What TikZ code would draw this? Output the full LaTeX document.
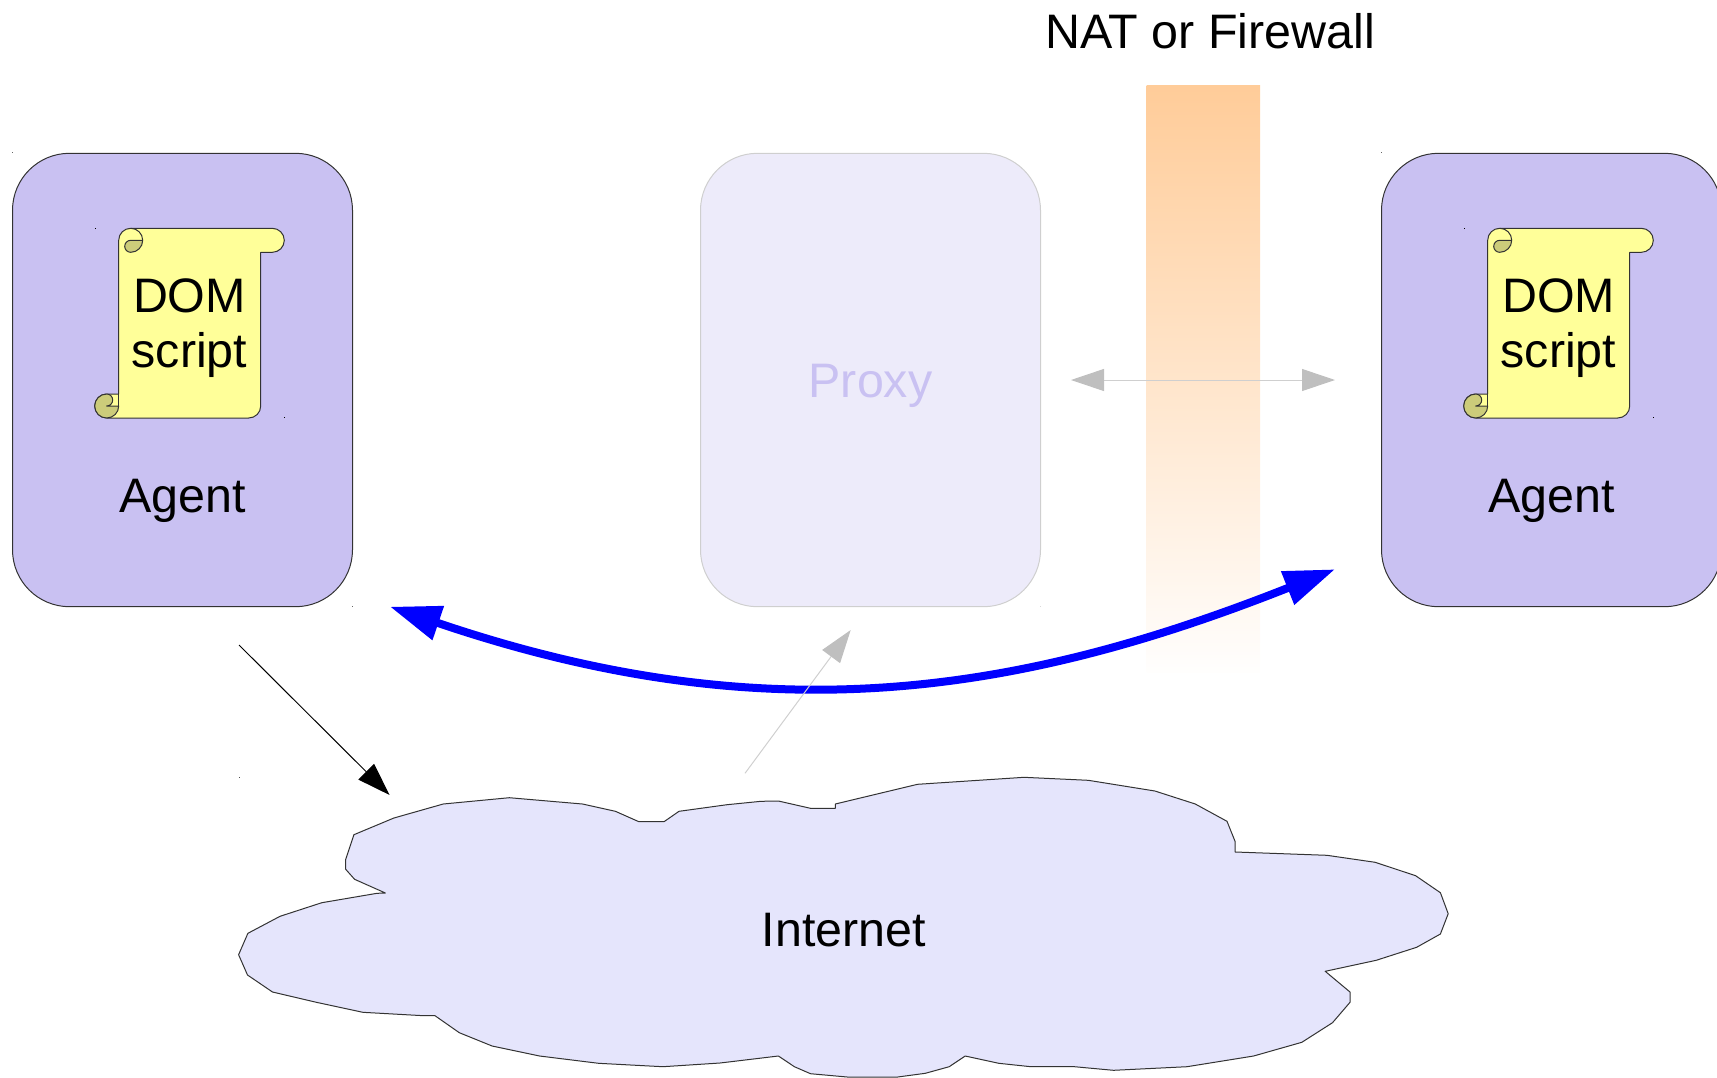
\documentclass[tikz,border=0pt]{standalone}
\usepackage{fontspec}
\setmainfont{Liberation Sans}
\usetikzlibrary{arrows.meta}
\definecolor{agentfill}{HTML}{C9C1F2}
\definecolor{proxyfill}{HTML}{EDEBFA}
\definecolor{cloudfill}{HTML}{E5E5FC}
\definecolor{scrollfill}{HTML}{FFFF99}
\definecolor{curlfill}{HTML}{CCCC7A}
\definecolor{wallfill}{HTML}{FFCC99}
\definecolor{wallend}{HTML}{FFFEFD}
\definecolor{inkline}{HTML}{333333}
\definecolor{fadeline}{HTML}{CFCFCF}
\definecolor{fadetip}{HTML}{BFBFBF}
\definecolor{fadetext}{HTML}{C9C1F2}
\tikzset{
  hostbox/.style={rounded corners=57pt,minimum width=340pt,minimum height=453.4pt,inner sep=0pt,line width=1pt},
  agentbox/.style={hostbox,draw=inkline,fill=agentfill},
  proxybox/.style={hostbox,draw=fadeline,fill=proxyfill},
  bigtext/.style={font=\fontsize{48.4}{54.5}\selectfont,inner sep=0pt,anchor=base},
  scrollline/.style={draw=inkline,line width=1pt,line join=round},
  speck/.style={fill=black},
  blackarrow/.style={line width=1pt,-{Triangle[length=33pt,width=22pt]}},
  fadearrow/.style={line width=1pt,draw=fadeline,-{Triangle[length=33pt,width=22pt,color=fadetip]}},
  fadedouble/.style={line width=1pt,draw=fadeline,{Triangle[length=33pt,width=22pt,color=fadetip]}-{Triangle[length=33pt,width=22pt,color=fadetip]}},
  bluearrow/.style={line width=8pt,draw=blue,{Triangle[length=51pt,width=34pt,color=blue]}-{Triangle[length=51pt,width=34pt,color=blue]}},
}
\begin{document}
\begin{tikzpicture}[x=1pt,y=-1pt]
\path[use as bounding box,clip] (0,0) rectangle (1717,1077);

% firewall
\shade[top color=wallfill,bottom color=wallend,shading angle=0] (1146.5,85.4) rectangle (1260,672);
\node[bigtext] (natlabel) at (1210,48) {NAT or Firewall};

% proxy
\node[proxybox] (proxy) at (870.5,380) {};
\node[bigtext,text=fadetext] (proxylabel) at (870.5,397) {Proxy};

% the two agents
\foreach \side/\ox in {left/0,right/1369}{
\begin{scope}[xshift=\ox pt]
  \node[agentbox] (agent\side) at (182.5,380) {};
  \node[bigtext] (agentlabel\side) at (182.5,512.5) {Agent};
  \draw[scrollline,fill=scrollfill] (130.7,228.3) -- (272.3,228.3) arc (-90:90:12) -- (260.7,252.3)
     -- (260.7,406) arc (0:90:12) -- (106.7,418) arc (90:270:12) -- (118.7,394)
     -- (118.7,240.3) arc (180:270:12) -- cycle;
  \draw[scrollline] (130.7,228.3) arc (-90:0:12);
  \draw[scrollline,fill=curlfill] (142.7,240.3) -- (130.7,240.3) arc (270:90:6) arc (90:0:12) -- cycle;
  \draw[scrollline,fill=curlfill] (106.7,418) arc (90:270:12) arc (-90:90:6) -- (118.7,406) arc (0:90:12) -- cycle;
  \draw[scrollline] (118.7,394) -- (118.7,406);
  \node[bigtext,align=center,anchor=center] (scroll\side) at (189.5,328) {DOM\\script};
  \fill[speck] (95,228) rectangle +(1,1);
  \fill[speck] (284,417) rectangle +(1,1);
  \fill[speck,opacity=.6] (12,152) rectangle +(1,1);
\end{scope}
}
\fill[speck,opacity=.6] (352,606) rectangle +(1,1);
\fill[speck,opacity=.15] (1040,606) rectangle +(1,1);
\fill[speck,opacity=.7] (239,777) rectangle +(1,1);

% internet
\draw[fill=cloudfill,draw=inkline,line width=1pt,line join=round]
  (509.3,797.7) -- (582.5,804) -- (615.4,811.3) -- (638.9,821.7) -- (664,821.7) -- (679,811.3)
  -- (727,804.7) -- (761,801.3) -- (778.4,801) -- (810.5,808.3) -- (835.3,808.3) -- (835.3,804)
  -- (917.5,784.3) -- (1024,777.3) -- (1088.3,780.3) -- (1154.9,791) -- (1195.3,804) -- (1227,821.3)
  -- (1235.2,841.7) -- (1235.2,852) -- (1327,855.3) -- (1375.2,862.3) -- (1415.6,875.7)
  -- (1440.4,892.7) -- (1448.2,913.7) -- (1440.4,934) -- (1416.6,947.3) -- (1376.2,960.3)
  -- (1325.2,971.3) -- (1350,992) -- (1350,1002.3) -- (1332.5,1022.7) -- (1301.8,1042.3)
  -- (1253.6,1056) -- (1187,1066.7) -- (1113.5,1070.3) -- (1074.5,1066.7) -- (1030.9,1066.7)
  -- (998.8,1063.3) -- (965.2,1056) -- (949.2,1066.7) -- (925.3,1073.3) -- (897.7,1077)
  -- (847.2,1077) -- (810.5,1073.7) -- (794.4,1066.7) -- (778.4,1056) -- (720,1063)
  -- (662.9,1066.7) -- (598.6,1063.3) -- (539.6,1056) -- (492.1,1046) -- (459.3,1032.7)
  -- (435,1015.7) -- (423.6,1015.7) -- (362.9,1012.3) -- (316.4,1002.3) -- (272.5,992)
  -- (247.5,975) -- (238.6,954.7) -- (247.9,933.3) -- (280,916.3) -- (321.8,902.7) -- (377,893.3)
  -- (385.4,893) -- (354.6,879.3) -- (345.7,869.3) -- (345.7,859.3) -- (353.9,834.7)
  -- (393.9,818) -- (443.2,804) -- cycle;
\node[bigtext] (internetlabel) at (844,946) {Internet};

% arrows
\coordinate (bluel) at (390,606.7);
\coordinate (bluer) at (1335,569.3);
\coordinate (blackfrom) at (239,645);
\coordinate (blackto) at (389.6,795);
\coordinate (fadefrom) at (745,773.3);
\coordinate (fadeto) at (850.7,630);
\coordinate (linkl) at (1071,380);
\coordinate (linkr) at (1335,380);
\draw[bluearrow] (bluel) .. controls (765,734) and (1015,696) .. (bluer);
\draw[blackarrow] (blackfrom) -- (blackto);
\draw[fadearrow] (fadefrom) -- (fadeto);
\draw[fadedouble] (linkl) -- (linkr);
\end{tikzpicture}
\end{document}
